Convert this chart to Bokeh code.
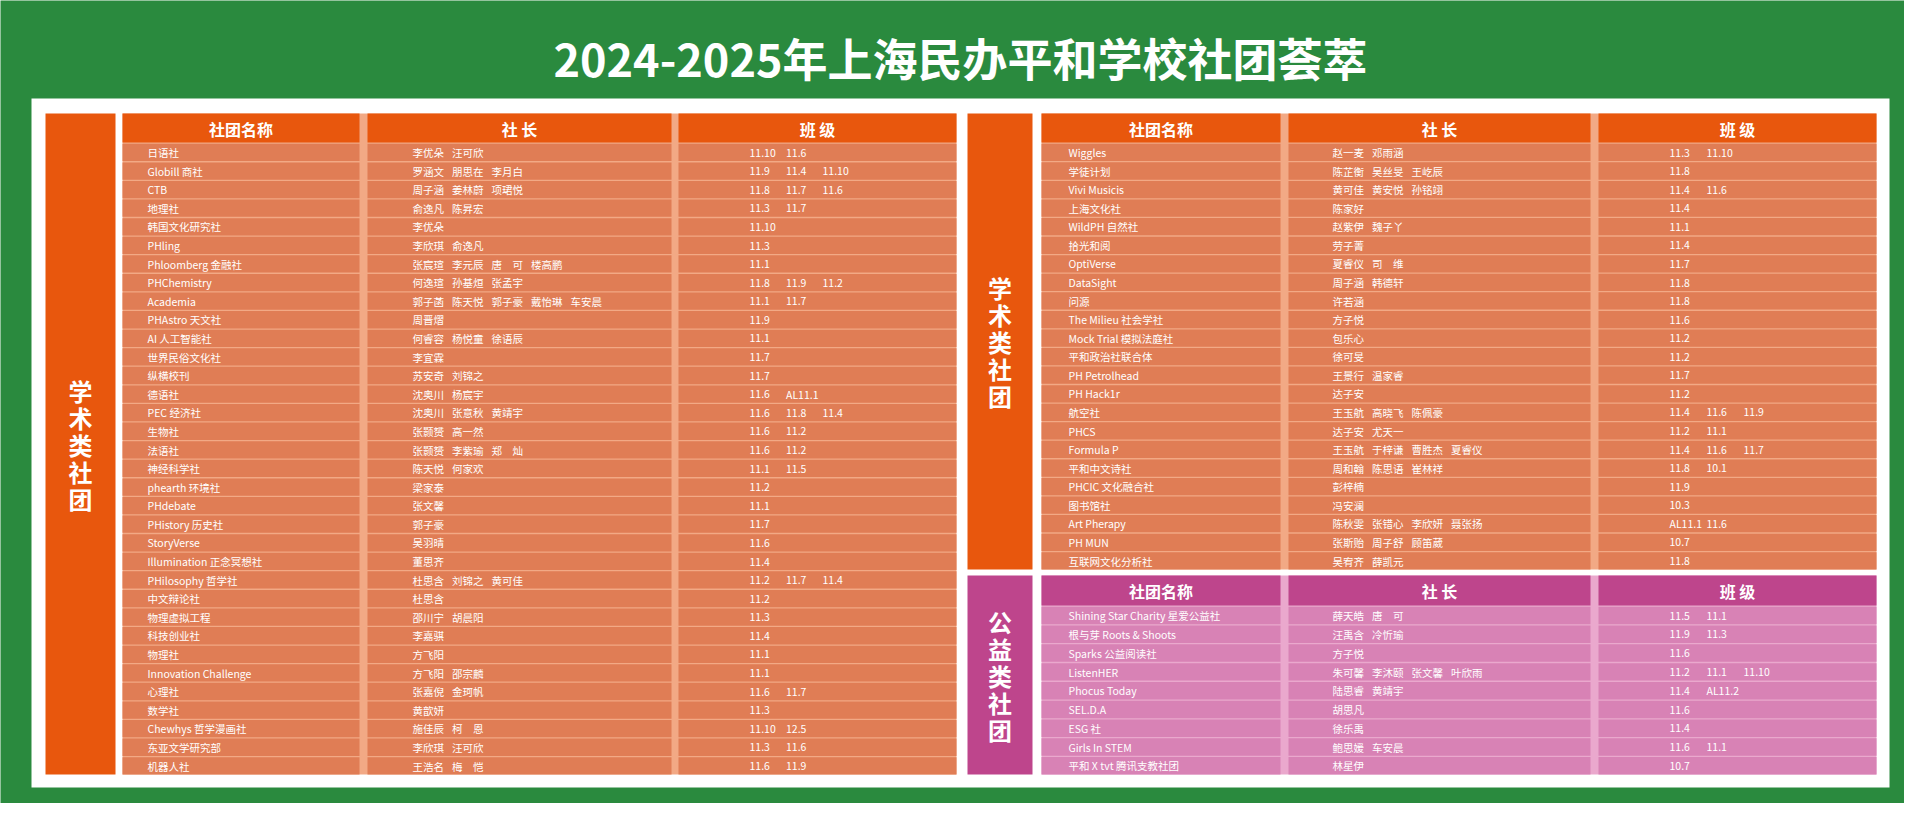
from bokeh.plotting import figure
from bokeh.models import Range1d, ColumnDataSource
from bokeh.core.properties import value
from bokeh.embed import file_html
from bokeh.resources import INLINE

# ---------------- data ----------------
title = "2024-2025年上海民办平和学校社团荟萃"
headers = ["社团名称", "社 长", "班 级"]
group_academic = "学术类社团"
group_charity = "公益类社团"

left_names = ["日语社", "Globill 商社", "CTB", "地理社", "韩国文化研究社", "PHling", "Phloomberg 金融社",
              "PHChemistry", "Academia", "PHAstro 天文社", "AI 人工智能社", "世界民俗文化社", "纵横校刊",
              "德语社", "PEC 经济社", "生物社", "法语社", "神经科学社", "phearth 环境社", "PHdebate",
              "PHistory 历史社", "StoryVerse", "Illumination 正念冥想社", "PHilosophy 哲学社", "中文辩论社",
              "物理虚拟工程", "科技创业社", "物理社", "Innovation Challenge", "心理社", "数学社",
              "Chewhys 哲学漫画社", "东亚文学研究部", "机器人社"]
left_leaders = ["李优朵 汪可欣", "罗涵文 朋思在 李月白", "周子涵 姜林蔚 项珺悦", "俞逸凡 陈昇宏", "李优朵",
                "李欣琪 俞逸凡", "张宸瑄 李元辰 唐　可 楼高鹏", "何逸瑄 孙基烜 张孟宇",
                "郭子菡 陈天悦 郭子豪 戴怡琳 车安晨", "周晋熠", "何睿容 杨悦童 徐语辰", "李宜霖",
                "苏安奇 刘锦之", "沈奥川 杨宸宇", "沈奥川 张意秋 黄靖宇", "张颢赟 高一然",
                "张颢赟 李紫瑜 郑　灿", "陈天悦 何家欢", "梁家泰", "张文馨", "郭子豪", "吴羽晴", "董思齐",
                "杜思含 刘锦之 黄可佳", "杜思含", "邵川宁 胡晨阳", "李嘉骐", "方飞阳", "方飞阳 邵宗麟",
                "张嘉倪 金珂帆", "黄歆妍", "施佳辰 柯　恩", "李欣琪 汪可欣", "王浩名 梅　恺"]
left_classes = ["11.10 11.6", "11.9 11.4 11.10", "11.8 11.7 11.6", "11.3 11.7", "11.10", "11.3", "11.1",
                "11.8 11.9 11.2", "11.1 11.7", "11.9", "11.1", "11.7", "11.7", "11.6 AL11.1",
                "11.6 11.8 11.4", "11.6 11.2", "11.6 11.2", "11.1 11.5", "11.2", "11.1", "11.7", "11.6",
                "11.4", "11.2 11.7 11.4", "11.2", "11.3", "11.4", "11.1", "11.1", "11.6 11.7", "11.3",
                "11.10 12.5", "11.3 11.6", "11.6 11.9"]

right_names = ["Wiggles", "学徒计划", "Vivi Musicis", "上海文化社", "WildPH 自然社", "拾光和阅", "OptiVerse",
               "DataSight", "问源", "The Milieu 社会学社", "Mock Trial 模拟法庭社", "平和政治社联合体",
               "PH Petrolhead", "PH Hack1r", "航空社", "PHCS", "Formula P", "平和中文诗社",
               "PHCIC 文化融合社", "图书馆社", "Art Pherapy", "PH MUN", "互联网文化分析社"]
right_leaders = ["赵一麦 邓雨涵", "陈芷衡 吴丝旻 王屹辰", "黄可佳 黄安悦 孙铭翊", "陈家好", "赵紫伊 魏子丫",
                 "劳子菁", "夏睿仪 司　维", "周子涵 韩德轩", "许若涵", "方子悦", "包乐心", "徐可旻",
                 "王景行 温家睿", "达子安", "王玉航 高晓飞 陈佩豪", "达子安 尤天一",
                 "王玉航 于梓谦 曹胜杰 夏睿仪", "周和翰 陈思语 崔林祥", "彭梓楠", "冯安澜",
                 "陈秋雯 张错心 李欣妍 聂张扬", "张斯贻 周子舒 顾笛葳", "吴宥齐 薛凯元"]
right_classes = ["11.3 11.10", "11.8", "11.4 11.6", "11.4", "11.1", "11.4", "11.7", "11.8", "11.8", "11.6",
                 "11.2", "11.2", "11.7", "11.2", "11.4 11.6 11.9", "11.2 11.1", "11.4 11.6 11.7",
                 "11.8 10.1", "11.9", "10.3", "AL11.1 11.6", "10.7", "11.8"]

pink_names = ["Shining Star Charity 星爱公益社", "根与芽 Roots & Shoots", "Sparks 公益阅读社", "ListenHER",
              "Phocus Today", "SEL.D.A", "ESG 社", "Girls In STEM", "平和 X tvt 腾讯支教社团"]
pink_leaders = ["薛天皓 唐　可", "汪禹含 冷忻瑜", "方子悦", "朱可馨 李沐颐 张文馨 叶欣雨", "陆思睿 黄靖宇",
                "胡思凡", "徐乐禹", "鲍思媛 车安晨", "林星伊"]
pink_classes = ["11.5 11.1", "11.9 11.3", "11.6", "11.2 11.1 11.10", "11.4 AL11.2", "11.6", "11.4",
                "11.6 11.1", "10.7"]

# ---------------- style ----------------
GREEN = "#2a8a3e"
OR_HEAD = "#e8570d"
OR_ROW = "#e07d55"
OR_GAP = "#f2a985"
PK_HEAD = "#be458c"
PK_ROW = "#d882b5"
PK_GAP = "#eaa8cd"
FONT = "Noto Sans CJK SC"

p = figure(width=1904, height=803, x_range=Range1d(0, 1904), y_range=Range1d(803, 0),
           x_axis_type=None, y_axis_type=None, output_backend="svg", toolbar_location=None,
           min_border=0)
p.grid.visible = False
p.outline_line_color = None
p.background_fill_color = GREEN
p.border_fill_color = GREEN

# white panel
p.quad(left=[31], right=[1889], top=[98], bottom=[787], fill_color="white", line_color=None)

# title
p.text(x=[960], y=[57], text=[title], text_font=value(FONT), text_font_style="bold",
       text_font_size="45px", text_color="white", text_align="center", text_baseline="middle")


def draw_table(cols, head_top, head_bot, body_bot, names, leaders, classes,
               head_col, row_col, gap_col, name_x, leader_x, class_x, leader_dx, class_dx,
               bar, bar_col, label):
    n = len(names)
    rh = (body_bot - head_bot) / n
    # background (gap colour)
    p.quad(left=[cols[0][0]], right=[cols[-1][1]], top=[head_top], bottom=[body_bot],
           fill_color=gap_col, line_color=None)
    # header cells
    p.quad(left=[c[0] for c in cols], right=[c[1] for c in cols], top=[head_top] * 3,
           bottom=[head_bot] * 3, fill_color=head_col, line_color=None)
    p.text(x=[(c[0] + c[1]) / 2 for c in cols], y=[(head_top + head_bot) / 2 + 0.5] * 3, text=headers,
           text_font=value(FONT), text_font_style="bold", text_font_size="16px",
           text_color="white", text_align="center", text_baseline="middle")
    # body cells
    L, R, T, B = [], [], [], []
    for i in range(n):
        for c in cols:
            L.append(c[0]); R.append(c[1])
            T.append(head_bot + i * rh + 1.3); B.append(head_bot + (i + 1) * rh)
    p.quad(left=L, right=R, top=T, bottom=B, fill_color=row_col, line_color=None)
    # texts
    xs, ys, ts = [], [], []
    for i in range(n):
        yc = head_bot + (i + 0.5) * rh + 0.8
        xs.append(name_x); ys.append(yc); ts.append(names[i])
        for k, nm in enumerate(leaders[i].split(" ")):
            xs.append(leader_x + k * leader_dx); ys.append(yc); ts.append(nm)
        for k, cl in enumerate(classes[i].split(" ")):
            xs.append(class_x + k * class_dx); ys.append(yc); ts.append(cl)
    src = ColumnDataSource(dict(x=xs, y=ys, t=ts))
    p.text(x="x", y="y", text="t", source=src, text_font=value(FONT), text_font_size="10.5px",
           text_color="white", text_align="left", text_baseline="middle")
    # side bar with vertical label
    p.quad(left=[bar[0]], right=[bar[1]], top=[head_top], bottom=[body_bot],
           fill_color=bar_col, line_color=None)
    cy = (head_top + body_bot) / 2
    m = len(label)
    p.text(x=[(bar[0] + bar[1]) / 2] * m, y=[cy + (j - (m - 1) / 2) * 27 for j in range(m)],
           text=list(label), text_font=value(FONT), text_font_style="bold", text_font_size="24px",
           text_color="white", text_align="center", text_baseline="middle")


left_cols = [(122, 359), (367, 671), (678, 956)]
right_cols = [(1041, 1280), (1288, 1590), (1598, 1876)]

draw_table(left_cols, 113, 142, 774, left_names, left_leaders, left_classes,
           OR_HEAD, OR_ROW, OR_GAP, 147, 412, 749, 39.5, 36.5, (45, 115), OR_HEAD, group_academic)
draw_table(right_cols, 113, 142, 569, right_names, right_leaders, right_classes,
           OR_HEAD, OR_ROW, OR_GAP, 1068, 1332, 1669, 39.5, 37, (967, 1032), OR_HEAD, group_academic)
draw_table(right_cols, 575, 605, 774, pink_names, pink_leaders, pink_classes,
           PK_HEAD, PK_ROW, PK_GAP, 1068, 1332, 1669, 39.5, 37, (967, 1032), PK_HEAD, group_charity)

open("out.html", "w").write(file_html(p, INLINE))
